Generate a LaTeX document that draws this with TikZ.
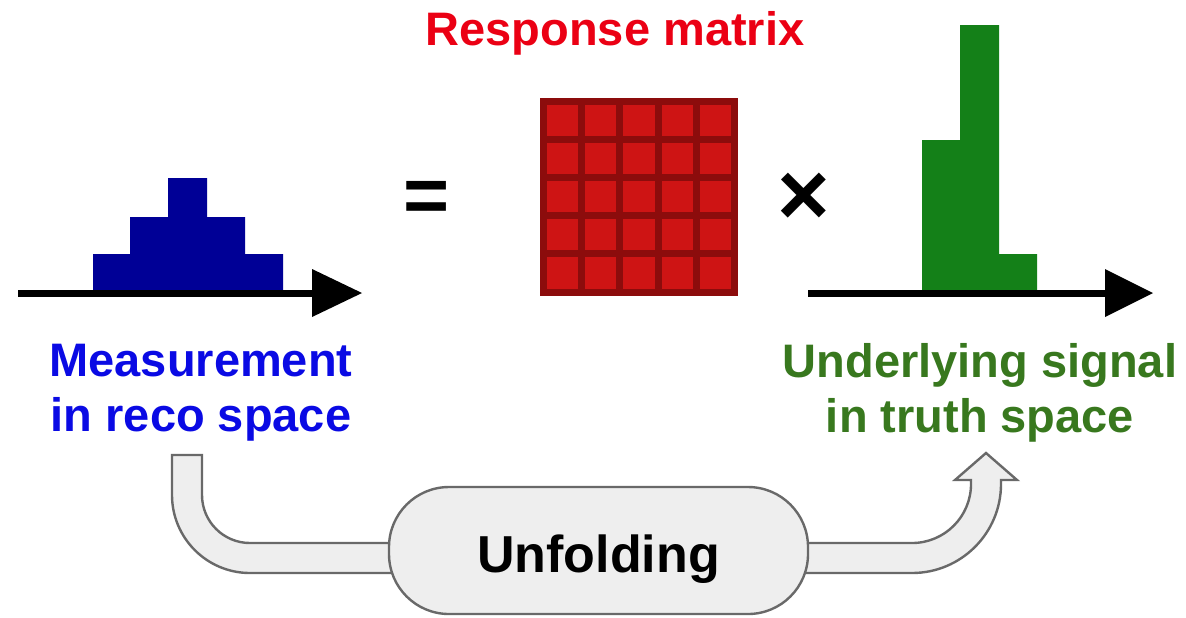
\documentclass[tikz,border=0pt]{standalone}
\usepackage{fontspec}
\setmainfont{Liberation Sans}
\usepackage{xcolor}
\usepackage{tikz}
\usetikzlibrary{backgrounds}

\definecolor{measblue}{RGB}{10,10,228}
\definecolor{histblue}{RGB}{0,0,150}
\definecolor{respred}{RGB}{235,0,20}
\definecolor{matcell}{RGB}{206,20,20}
\definecolor{matline}{RGB}{140,12,12}
\definecolor{sigtext}{RGB}{56,120,30}
\definecolor{histgreen}{RGB}{20,128,24}
\definecolor{arrowfill}{RGB}{238,238,238}
\definecolor{arrowedge}{RGB}{105,105,105}

\newcommand{\labelfont}{\fontsize{23.5pt}{27.5pt}\selectfont\bfseries}

\tikzset{
    axisline/.style={line width=3.5pt},
    fatarrow/.style={fill=arrowfill, draw=arrowedge, line width=1.2pt},
    unfoldbox/.style={draw=arrowedge,
        fill=arrowfill,
        line width=1.2pt,
        rounded corners=30pt,
        minimum width=209.5pt,
        minimum height=63.5pt,
        text height=21.5pt,
        text depth=0pt,
        font=\fontsize{26pt}{28pt}\selectfont\bfseries}
}

\begin{document}
\begin{tikzpicture}[x=0.5pt,y=-0.5pt]
                \useasboundingbox (0,0) rectangle (1186,617);
                % Measured histogram
                \fill[histblue] (93,293) -- (93,254) -- (130,254) -- (130,217)
                    -- (168,217) -- (168,178) -- (207,178) -- (207,217)
                    -- (245,217) -- (245,254) -- (283,254) -- (283,293) -- cycle;
                \draw[axisline] (18,293) -- (313,293);
                \fill (312,269) -- (362,293) -- (312,317) -- cycle;
                % Truth histogram
                \fill[histgreen] (922,293) -- (922,140) -- (960,140) -- (960,25)
                    -- (999,25) -- (999,254) -- (1037,254) -- (1037,293) -- cycle;
                \draw[axisline] (808,293) -- (1106,293);
                \fill (1105,269) -- (1153,293) -- (1105,317) -- cycle;
                % Operators
                \node [font=\fontsize{39.5pt}{40pt}\selectfont\bfseries,
                    inner sep=0pt] (eq) at (426.5,202) {=};
                \node [font=\fontsize{45pt}{46pt}\selectfont\bfseries,
                    inner sep=0pt] (times) at (804,199.5) {×};
                % Response matrix
                \node [fill=matline,
                    inner sep=0pt,
                    minimum size=99pt] (resp) at (639,196.5) {};
                \foreach \i in {0,...,4}
                    \foreach \j in {0,...,4}
                        \fill[matcell] ({547+\i*38.2},{104.5+\j*38.2}) rectangle ++(31.2,31.2);
                \node [font=\labelfont,
                    text=respred,
                    anchor=base] (resptitle) at (615,45) {Response matrix};
                % Labels
                \node [align=center,
                    font=\labelfont,
                    text=measblue,
                    inner sep=0pt] (meas) at (201,393) {Measurement\\in reco space};
                \node [align=center,
                    font=\labelfont,
                    text=sigtext,
                    inner sep=0pt] (truth) at (980,393) {Underlying signal\\in truth space};
                % Unfolding step
                \node [unfoldbox] (unfold) at (598.5,550.5) {Unfolding};
                \begin{scope}[on background layer]
                    \fill[white] (0,0) rectangle (1186,617);
                    \draw[fatarrow] (172,455) -- (172,495) arc (180:90:78)
                        -- (unfold.center |- 0,573) -- (unfold.center |- 0,543)
                        -- (250,543) arc (90:180:48) -- (202,455) -- cycle;
                    \draw[fatarrow] (unfold.center |- 0,543) -- (912,543) arc (90:0:59)
                        -- (971,480) -- (955,480) -- (986,453) -- (1017,480)
                        -- (1001,480) -- (1001,484) arc (0:90:89)
                        -- (unfold.center |- 0,573) -- cycle;
                \end{scope}
            \end{tikzpicture}
\end{document}
